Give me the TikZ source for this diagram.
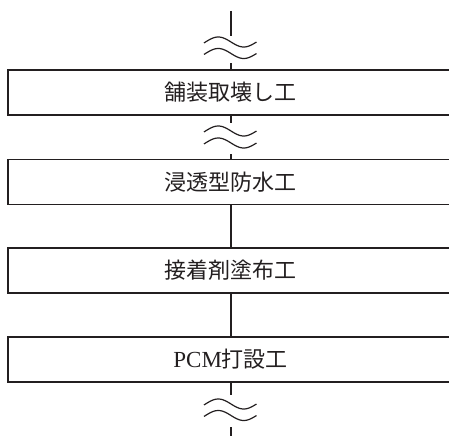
\documentclass[tikz,border=0pt]{standalone}
\usepackage{fontspec}
\setmainfont{Liberation Serif}
\newfontfamily\cjk{Noto Sans CJK JP}
\definecolor{ink}{HTML}{231F20}
\begin{document}
\begin{tikzpicture}[x=1pt,y=1pt,
  procbox/.style={draw=ink,line width=1.7pt,minimum width=445.4pt,minimum height=45pt,inner sep=0pt,
    font=\fontsize{22}{26}\selectfont\cjk,text=ink},
  conn/.style={draw=ink,line width=1.7pt},
  wave/.style={draw=ink,line width=1.2pt}]
\useasboundingbox (0,0) rectangle (449,-436);
\newcommand\mywave[1]{\draw[wave] plot[domain=-0.03:1.0,samples=40,smooth] ({205.5+51*\x},{-#1+5*sin(360*\x)});}
\node[procbox] (b1) at (230.7,-92.5) {舗装取壊し工};
\node[procbox] (b2) at (230.7,-182) {浸透型防水工};
\node[procbox] (b3) at (230.7,-270.5) {接着剤塗布工};
\node[procbox] (b4) at (230.7,-359.5) {{\rmfamily\fontsize{23}{26}\selectfont PCM}打設工};
% top break
\coordinate (t0) at (230.7,-11);
\coordinate (t1) at (230.7,-36);
\coordinate (t2) at (230.7,-63);
\draw[conn] (t0) -- (t1);
\draw[conn] (t2) -- (b1.north);
\mywave{42}
\mywave{53.5}
% middle break
\coordinate (m1) at (230.7,-123);
\coordinate (m2) at (230.7,-154);
\draw[conn] (b1.south) -- (m1);
\draw[conn] (m2) -- (b2.north);
\mywave{131}
\mywave{143}
% plain connectors
\draw[conn] (b2.south) -- (b3.north);
\draw[conn] (b3.south) -- (b4.north);
% bottom break
\coordinate (u1) at (230.7,-395);
\coordinate (u2) at (230.7,-427);
\coordinate (u3) at (230.7,-436);
\draw[conn] (b4.south) -- (u1);
\draw[conn] (u2) -- (u3);
\mywave{404}
\mywave{415.5}
\end{tikzpicture}
\end{document}
